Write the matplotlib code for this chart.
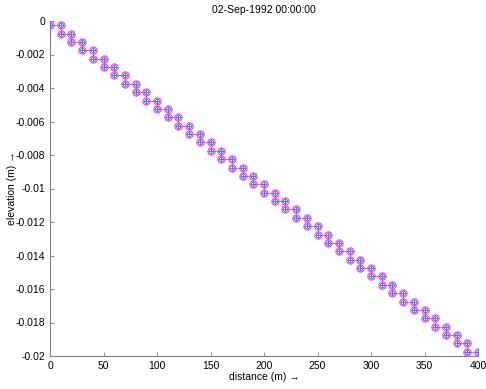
import matplotlib
matplotlib.use("Agg")
import matplotlib.pyplot as plt

plt.rcParams['font.family'] = ['Liberation Sans', 'DejaVu Sans']

title = "02-Sep-1992 00:00:00"
x_edges = [0, 10, 20, 30, 40, 50, 60, 70, 80, 90, 100, 110, 120, 130, 140, 150, 160, 170, 180, 190, 200,
           210, 220, 230, 240, 250, 260, 270, 280, 290, 300, 310, 320, 330, 340, 350, 360, 370, 380, 390, 400]
levels = [-0.00025, -0.00075, -0.00125, -0.00175, -0.00225, -0.00275, -0.00325, -0.00375, -0.00425, -0.00475,
          -0.00525, -0.00575, -0.00625, -0.00675, -0.00725, -0.00775, -0.00825, -0.00875, -0.00925, -0.00975,
          -0.01025, -0.01075, -0.01125, -0.01175, -0.01225, -0.01275, -0.01325, -0.01375, -0.01425, -0.01475,
          -0.01525, -0.01575, -0.01625, -0.01675, -0.01725, -0.01775, -0.01825, -0.01875, -0.01925, -0.01975]
x_ticks = [0, 50, 100, 150, 200, 250, 300, 350, 400]
y_ticks = [0, -0.002, -0.004, -0.006, -0.008, -0.01, -0.012, -0.014, -0.016, -0.018, -0.02]
y_ticklabels = ["0", "-0.002", "-0.004", "-0.006", "-0.008", "-0.01", "-0.012", "-0.014", "-0.016", "-0.018", "-0.02"]

xs, ys = [], []
for i, lv in enumerate(levels):
    xs += [x_edges[i], x_edges[i + 1]]
    ys += [lv, lv]

fig = plt.figure(figsize=(4.86, 3.89), dpi=100)
ax = fig.add_axes([50 / 486, 33 / 389, 428 / 486, 335 / 389])

ax.plot(xs, ys, linestyle='-', color='#ff40ff', lw=0.6, zorder=2)
ax.plot(xs, ys, linestyle='none', marker='o', color='#40a040', markersize=3.2, mfc='none', mew=0.6, zorder=3)
ax.plot(xs, ys, linestyle='none', marker='+', color='#3070ff', markersize=4, mew=0.6, zorder=4)
ax.plot(xs, ys, linestyle='none', marker='o', color='#ff30ff', markersize=5.2, mfc='none', mew=0.8, zorder=5)

ax.set_xlim(0, 400)
ax.set_ylim(-0.02, 0)
ax.set_xticks(x_ticks)
ax.set_yticks(y_ticks)
ax.set_yticklabels(y_ticklabels)
for s in ['top', 'right']:
    ax.spines[s].set_visible(False)
for s in ['left', 'bottom']:
    ax.spines[s].set_color('#808080')
    ax.spines[s].set_linewidth(0.8)
ax.tick_params(direction='in', length=3, width=0.6, colors='#808080', labelcolor='black', labelsize=7.5)
ax.set_xlabel("distance (m) \u2192", fontsize=7.5, labelpad=1)
ax.set_ylabel("elevation (m) \u2192", fontsize=7.5)
ax.yaxis.set_label_coords(-0.077, 0.5)
ax.set_title(title, fontsize=7.5, pad=6)

fig.savefig("out.png", dpi=100)
